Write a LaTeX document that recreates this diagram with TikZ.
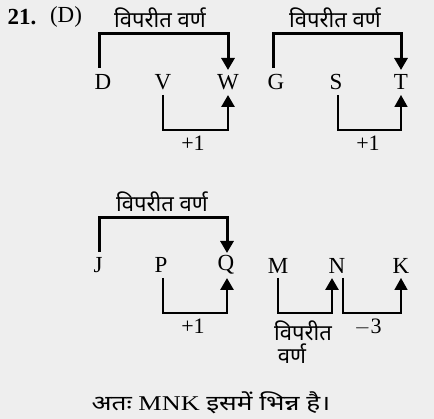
\documentclass[tikz,border=0pt]{standalone}
\usepackage{fontspec}
\setmainfont{Liberation Serif}
\newfontfamily\hin[Script=Devanagari]{Noto Sans}
\usetikzlibrary{arrows.meta}
\definecolor{bg}{RGB}{238,238,238}
\tikzset{
  let/.style={inner sep=0pt, font=\fontsize{23}{25}\selectfont},
  lbl/.style={inner sep=0pt, font=\fontsize{22}{24}\selectfont},
  hl/.style={inner sep=0pt, font=\hin\fontsize{22}{24}\selectfont},
  br/.style={line width=3pt, -{Triangle[width=13pt,length=12pt]}},
  brb/.style={line width=2.7pt, -{Triangle[width=13pt,length=12pt]}},
  brt/.style={line width=1.6pt, -{Triangle[width=13pt,length=12pt]}},
}
\begin{document}
\begin{tikzpicture}[x=1pt,y=-1pt]
\fill[bg] (0,0) rectangle (434,419);
\useasboundingbox (0,0) rectangle (434,419);
% header
\node[let, font=\bfseries\fontsize{23}{25}\selectfont] (num) at (22,17) {21.};
\node[let] (opt) at (66,17) {(D)};
% group 1
\node[hl] (h1) at (160,18) {विपरीत वर्ण};
\node[let] (D) at (103,82) {D};
\node[let] (V) at (163,82) {V};
\node[let] (W) at (228,82) {W};
\draw[br] ([xshift=-4pt]D.north |- 0,68) -- ([xshift=-4pt]D.north |- 0,34) -| (W.north |- 0,70);
\draw[brb] (V.south |- 0,95) -- (V.south |- 0,130) -| (W.south |- 0,95);
\node[lbl] (p1) at (193,143) {+1};
% group 2
\node[hl] (h2) at (335,18) {विपरीत वर्ण};
\node[let] (G) at (276,82) {G};
\node[let] (S) at (336,82) {S};
\node[let] (T) at (401,82) {T};
\draw[br] ([xshift=-3pt]G.north |- 0,68) -- ([xshift=-3pt]G.north |- 0,34) -| (T.north |- 0,70);
\draw[brt] ([xshift=2pt]S.south |- 0,95) -- ([xshift=2pt]S.south |- 0,130) -| (T.south |- 0,95);
\node[lbl] (p2) at (368,143) {+1};
% group 3
\node[hl] (h3) at (162,202) {विपरीत वर्ण};
\node[let] (J) at (98,265) {J};
\node[let] (P) at (161,265) {P};
\node[let] (Q) at (226,265) {Q};
\draw[br] ([xshift=1pt]J.north |- 0,252) -- ([xshift=1pt]J.north |- 0,218) -| ([xshift=1pt]Q.north |- 0,253);
\draw[brb] ([xshift=2pt]P.south |- 0,278) -- ([xshift=2pt]P.south |- 0,313) -| ([xshift=1pt]Q.south |- 0,278);
\node[lbl] (p3) at (193,326) {+1};
% group 4
\node[let] (M) at (278,266) {M};
\node[let] (N) at (337,266) {N};
\node[let] (K) at (401,266) {K};
\draw[brb] (M.south |- 0,278) -- (M.south |- 0,313) -| ([xshift=-5pt]N.south |- 0,278);
\draw[brt] ([xshift=6pt]N.south |- 0,278) -- ([xshift=6pt]N.south |- 0,313) -| (K.south |- 0,278);
\node[hl] (h4a) at (303,331) {विपरीत};
\node[hl] (h4b) at (292,354) {वर्ण};
\node[lbl] (m3) at (368,327) {$-$3};
% conclusion
\node[inner sep=0pt, font=\fontsize{21}{23}\selectfont] (con) at (211,403) {\scalebox{1.25}[1]{{\hin अतः} MNK {\hin इसमें भिन्न है।}}};
\end{tikzpicture}
\end{document}
